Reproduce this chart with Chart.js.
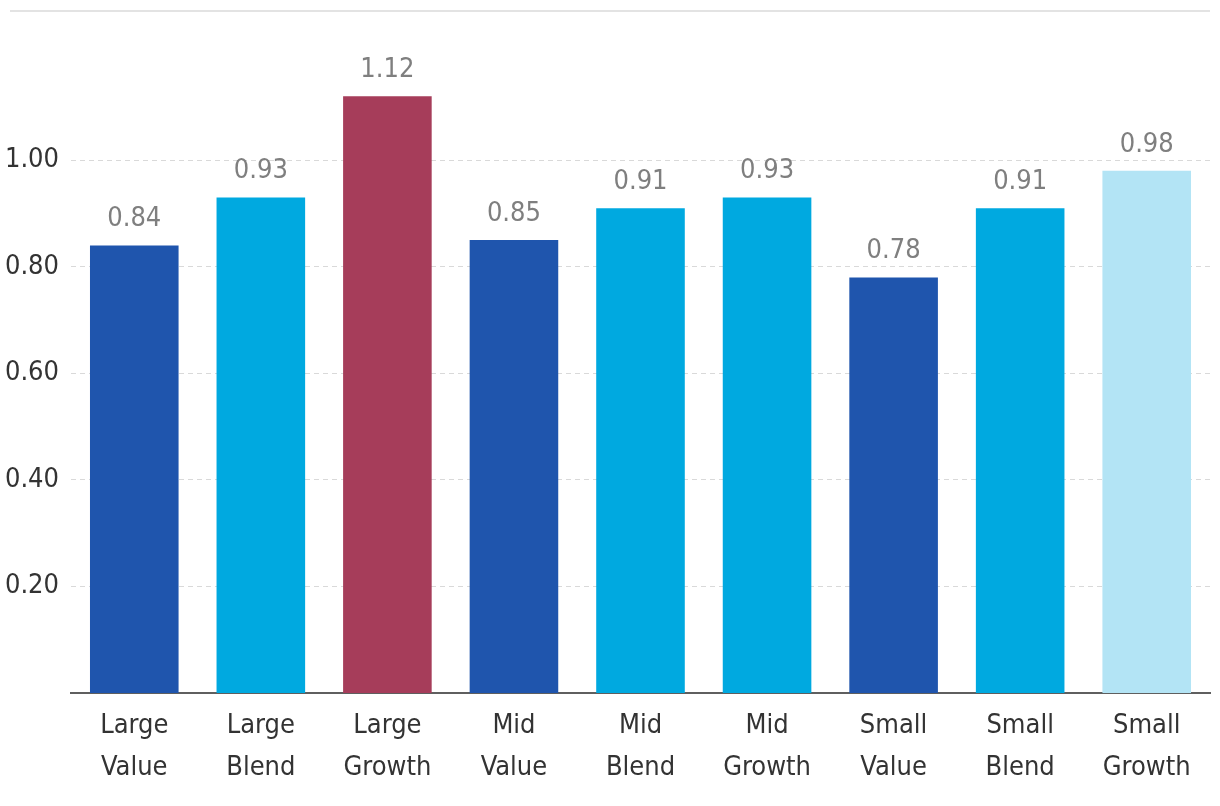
<!DOCTYPE html>
<html>
<head>
<meta charset="utf-8">
<script src="https://cdn.jsdelivr.net/npm/chart.js@4/dist/chart.umd.min.js"></script>
<style>
  html, body { margin: 0; padding: 0; background: #ffffff; }
  #wrap { width: 1220px; height: 806px; position: relative; }
</style>
</head>
<body>
<div id="wrap"><canvas id="c" width="1220" height="806"></canvas></div>
<script>
const categories = [["Large","Value"],["Large","Blend"],["Large","Growth"],["Mid","Value"],["Mid","Blend"],["Mid","Growth"],["Small","Value"],["Small","Blend"],["Small","Growth"]];
const values = [0.84, 0.93, 1.12, 0.85, 0.91, 0.93, 0.78, 0.91, 0.98];
const barColors = ["#1F55AD","#00A9E0","#A63D5A","#1F55AD","#00A9E0","#00A9E0","#1F55AD","#00A9E0","#B3E4F5"];
const yTicks = [0.2, 0.4, 0.6, 0.8, 1.0];
const yMax = 1.28;

const FONT = "'Noto Sans ExtraCondensed', 'Noto Sans Condensed', 'Liberation Sans Narrow', 'DejaVu Sans Condensed', sans-serif";
const FSIZE = 27;

const valueLabels = {
  id: 'valueLabels',
  afterDatasetsDraw(chart) {
    const ctx = chart.ctx;
    const meta = chart.getDatasetMeta(0);
    ctx.save();
    ctx.font = FSIZE + "px " + FONT;
    ctx.fillStyle = "#7f7f7f";
    ctx.textAlign = "center";
    ctx.textBaseline = "alphabetic";
    meta.data.forEach((bar, i) => {
      ctx.fillText(values[i].toFixed(2), bar.x, bar.y - 19);
    });
    ctx.restore();
  }
};

const topRule = {
  id: 'topRule',
  beforeDraw(chart) {
    const ctx = chart.ctx;
    ctx.save();
    ctx.strokeStyle = "#e3e3e3";
    ctx.lineWidth = 2;
    ctx.beginPath();
    ctx.moveTo(10, chart.chartArea.top);
    ctx.lineTo(1210, chart.chartArea.top);
    ctx.stroke();
    ctx.restore();
  }
};

new Chart(document.getElementById('c'), {
  type: 'bar',
  data: {
    labels: categories,
    datasets: [{
      data: values,
      backgroundColor: barColors,
      borderWidth: 0,
      barPercentage: 0.7,
      categoryPercentage: 1.0
    }]
  },
  options: {
    responsive: false,
    animation: false,
    layout: { padding: { top: 11, right: 10, left: 0, bottom: 0 } },
    plugins: { legend: { display: false }, tooltip: { enabled: false } },
    scales: {
      x: {
        afterFit(scale) { scale.height = 113; scale.paddingLeft = 0; scale.paddingRight = 0; },
        grid: { display: false, drawTicks: false },
        border: { display: true, color: "#5f5f5f", width: 2 },
        ticks: {
          color: "#333333",
          font: { family: FONT, size: FSIZE, lineHeight: 1.55 },
          padding: 12,
          maxRotation: 0,
          autoSkip: false
        }
      },
      y: {
        min: 0,
        max: yMax,
        afterBuildTicks(scale) { scale.ticks = yTicks.map(v => ({ value: v })); },
        afterFit(scale) { scale.width = 71; scale.paddingTop = 0; scale.paddingBottom = 0; },
        grid: { color: "#d9d9d9", lineWidth: 1, drawTicks: false },
        border: { display: false, dash: [5, 4] },
        ticks: {
          color: "#333333",
          font: { family: FONT, size: FSIZE },
          padding: 12,
          callback: (v) => Number(v).toFixed(2)
        }
      }
    }
  },
  plugins: [valueLabels, topRule]
});
</script>
</body>
</html>
